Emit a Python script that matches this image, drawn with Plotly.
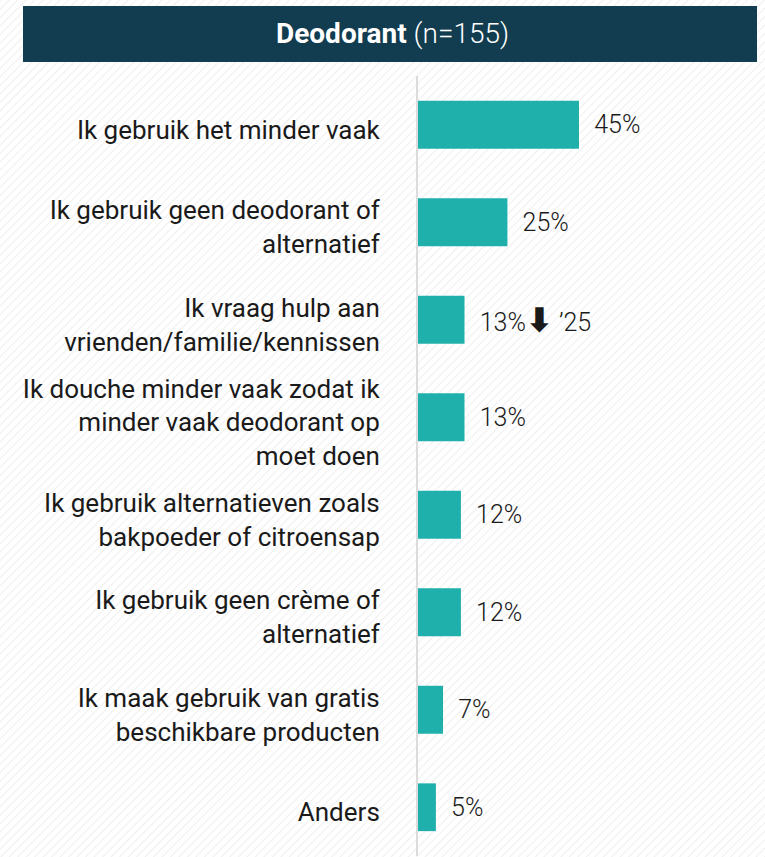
import base64
import plotly.graph_objects as go

categories = [
    "Ik gebruik het minder vaak",
    "Ik gebruik geen deodorant of<br>alternatief",
    "Ik vraag hulp aan<br>vrienden/familie/kennissen",
    "Ik douche minder vaak zodat ik<br>minder vaak deodorant op<br>moet doen",
    "Ik gebruik alternatieven zoals<br>bakpoeder of citroensap",
    "Ik gebruik geen crème of<br>alternatief",
    "Ik maak gebruik van gratis<br>beschikbare producten",
    "Anders",
]
values = [45, 25, 13, 13, 12, 12, 7, 5]
notes = ["", "", "’25", "", "", "", "", ""]

W, H = 765, 857
ML, MT, MB = 418, 76, 1
pw, ph = W - ML, H - MT - MB

FONT = "Roboto"
BAR = "#1fb0ac"
HEAD = "#123c4f"
PAD = "\u00a0\u00a0"

labels = []
for v, n in zip(values, notes):
    t = f"{PAD}{v}%"
    if n:
        t += "<span style='font-size:32px'><b>⬇</b></span>\u00a0" + n
    labels.append(t)

# faint diagonal hatch background
svg = (
    f'<svg xmlns="http://www.w3.org/2000/svg" width="{W}" height="{H}">'
    '<defs><pattern id="p" width="6" height="6" patternUnits="userSpaceOnUse" '
    'patternTransform="rotate(45)"><line x1="0" y1="0" x2="0" y2="6" '
    'stroke="#efefef" stroke-width="2"/></pattern></defs>'
    f'<rect width="{W}" height="{H}" fill="url(#p)"/></svg>'
)
bg = "data:image/svg+xml;base64," + base64.b64encode(svg.encode()).decode()

fig = go.Figure(go.Bar(
    x=values, y=categories, orientation="h",
    marker=dict(color=BAR, line=dict(width=0)),
    width=0.49,
    text=labels, textposition="outside", cliponaxis=False,
    textfont=dict(family=FONT, size=25, color="#1a1a1a", weight=300),
    hoverinfo="skip",
))

fig.update_layout(
    width=W, height=H,
    margin=dict(l=ML, r=0, t=MT, b=MB),
    paper_bgcolor="white", plot_bgcolor="rgba(0,0,0,0)",
    showlegend=False,
    font=dict(family=FONT, size=26, color="#1a1a1a"),
    xaxis=dict(range=[0, 97], visible=False, fixedrange=True),
    yaxis=dict(autorange=False, range=[7.5, -0.5], showgrid=False,
               showline=True, linecolor="#dcdcdc", linewidth=2,
               ticks="", ticklabelstandoff=31, ticklabelshift=-5,
               automargin=False,
               tickfont=dict(family=FONT, size=26, color="#1a1a1a")),
    uniformtext=dict(mode="show", minsize=10),
    images=[dict(source=bg, xref="paper", yref="paper",
                 x=-ML / pw, y=1 + MT / ph, sizex=W / pw, sizey=H / ph,
                 sizing="stretch", xanchor="left", yanchor="top",
                 layer="below")],
    shapes=[dict(type="rect", xref="paper", yref="paper",
                 x0=(23 - ML) / pw, x1=(757 - ML) / pw,
                 y0=1 + (MT - 62) / ph, y1=1 + (MT - 6) / ph,
                 fillcolor=HEAD, line=dict(width=0), layer="above")],
    annotations=[dict(xref="paper", yref="paper",
                      x=(392 - ML) / pw, y=1 + (MT - 34) / ph,
                      text="<b>Deodorant</b> <span style='font-weight:300'>(n=155)</span>",
                      showarrow=False,
                      font=dict(family=FONT, size=28, color="white"),
                      xanchor="center", yanchor="middle")],
)

fig.write_html("out.html", config={"displayModeBar": False},
               post_script="document.body.style.margin='0';")
